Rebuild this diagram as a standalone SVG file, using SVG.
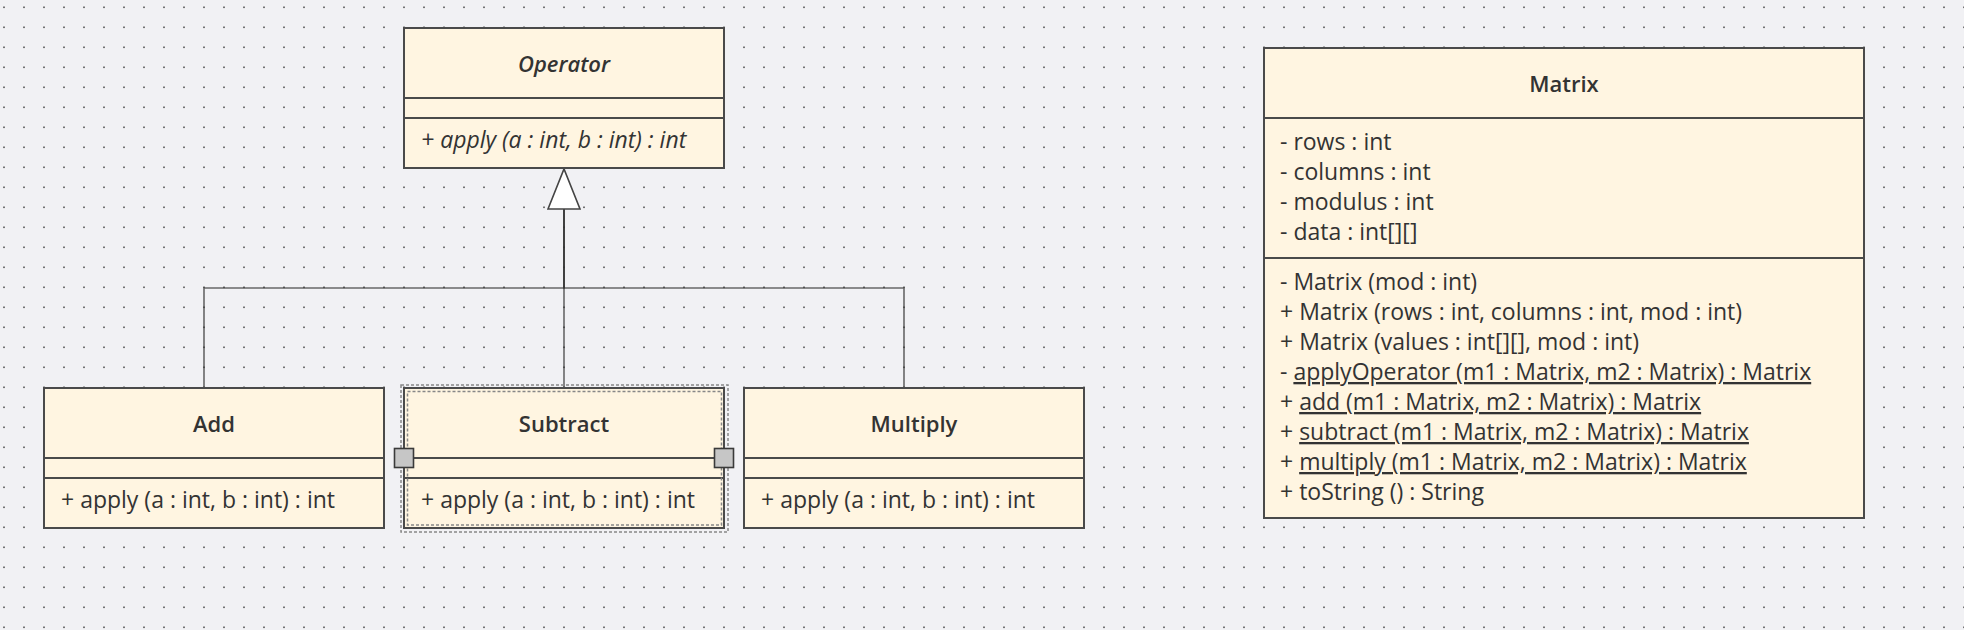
<svg xmlns="http://www.w3.org/2000/svg" width="1964" height="630" viewBox="0 0 1964 630">
  <style>
    .box { fill: #fff5e1; stroke: #4a4a4a; stroke-width: 2; }
    .sep { stroke: #4a4a4a; stroke-width: 2; fill: none; }
    .title { font-family: "Open Sans", "Noto Sans", "Liberation Sans", sans-serif; font-size: 22px; font-weight: 600; fill: #333333; text-anchor: middle; }
    .member { font-family: "Open Sans", "Noto Sans", "Liberation Sans", sans-serif; font-size: 23px; fill: #333333; }
    .abstract { font-style: italic; }
    .static { text-decoration: underline; }
    .edge { fill: none; stroke: #333333; stroke-opacity: 0.72; stroke-width: 1.6; }
    .sel { fill: none; stroke: #888888; stroke-width: 1.5; stroke-dasharray: 3 2; }
    .handle { fill: #c6c6c6; stroke: #3a3a3a; stroke-width: 1.6; }
  </style>
  <defs>
    <pattern id="grid" patternUnits="userSpaceOnUse" width="20" height="20">
      <rect x="3.2" y="6.5" width="1.6" height="1.6" fill="#555555"/>
    </pattern>
    <marker id="inherit" markerUnits="userSpaceOnUse" viewBox="-2 -2 44 36" markerWidth="44" markerHeight="36" refX="40" refY="16" orient="auto" overflow="visible">
      <path d="M0,0 L40,16 L0,32 Z" fill="#ffffff" stroke="#444444" stroke-width="1.6" stroke-linejoin="miter"/>
    </marker>
  </defs>

  <rect x="0" y="0" width="1964" height="630" fill="#f1f1f4"/>
  <rect x="0" y="0" width="1964" height="630" fill="url(#grid)"/>

  <g id="connectors">
    <path class="edge" d="M204,388 V288 H564 V208"/>
    <path class="edge" d="M904,388 V288 H564 V208"/>
    <path class="edge" d="M564,388 V169" marker-end="url(#inherit)"/>
  </g>

  <g id="node-operator">
    <rect class="box" x="404" y="28" width="320" height="140"/>
    <line class="sep" x1="404" y1="98" x2="724" y2="98"/>
    <line class="sep" x1="404" y1="118" x2="724" y2="118"/>
    <text class="title abstract" x="564" y="72">Operator</text>
    <text class="member abstract" x="421" y="148">+ apply (a : int, b : int) : int</text>
  </g>

  <g id="node-add">
    <rect class="box" x="44" y="388" width="340" height="140"/>
    <line class="sep" x1="44" y1="458" x2="384" y2="458"/>
    <line class="sep" x1="44" y1="478" x2="384" y2="478"/>
    <text class="title" x="214" y="432">Add</text>
    <text class="member" x="61" y="508">+ apply (a : int, b : int) : int</text>
  </g>

  <g id="node-subtract">
    <rect class="box" x="404" y="388" width="320" height="140"/>
    <line class="sep" x1="404" y1="458" x2="724" y2="458"/>
    <line class="sep" x1="404" y1="478" x2="724" y2="478"/>
    <text class="title" x="564" y="432">Subtract</text>
    <text class="member" x="421" y="508">+ apply (a : int, b : int) : int</text>
    <rect class="sel" x="401" y="385" width="327" height="147"/>
    <rect class="sel" x="407.5" y="391.5" width="314" height="133.5"/>
    <rect class="handle" x="394.5" y="448.5" width="19" height="19"/>
    <rect class="handle" x="714.5" y="448.5" width="19" height="19"/>
  </g>

  <g id="node-multiply">
    <rect class="box" x="744" y="388" width="340" height="140"/>
    <line class="sep" x1="744" y1="458" x2="1084" y2="458"/>
    <line class="sep" x1="744" y1="478" x2="1084" y2="478"/>
    <text class="title" x="914" y="432">Multiply</text>
    <text class="member" x="761" y="508">+ apply (a : int, b : int) : int</text>
  </g>

  <g id="node-matrix">
    <rect class="box" x="1264" y="48" width="600" height="470"/>
    <line class="sep" x1="1264" y1="118" x2="1864" y2="118"/>
    <line class="sep" x1="1264" y1="258" x2="1864" y2="258"/>
    <text class="title" x="1564" y="92">Matrix</text>
    <text class="member" x="1280" y="150">- rows : int</text>
    <text class="member" x="1280" y="180">- columns : int</text>
    <text class="member" x="1280" y="210">- modulus : int</text>
    <text class="member" x="1280" y="240">- data : int[][]</text>
    <text class="member" x="1280" y="290">- Matrix (mod : int)</text>
    <text class="member" x="1280" y="320">+ Matrix (rows : int, columns : int, mod : int)</text>
    <text class="member" x="1280" y="350">+ Matrix (values : int[][], mod : int)</text>
    <text class="member" x="1280" y="380">- <tspan class="static">applyOperator (m1 : Matrix, m2 : Matrix) : Matrix</tspan></text>
    <text class="member" x="1280" y="410">+ <tspan class="static">add (m1 : Matrix, m2 : Matrix) : Matrix</tspan></text>
    <text class="member" x="1280" y="440">+ <tspan class="static">subtract (m1 : Matrix, m2 : Matrix) : Matrix</tspan></text>
    <text class="member" x="1280" y="470">+ <tspan class="static">multiply (m1 : Matrix, m2 : Matrix) : Matrix</tspan></text>
    <text class="member" x="1280" y="500">+ toString () : String</text>
  </g>
</svg>
